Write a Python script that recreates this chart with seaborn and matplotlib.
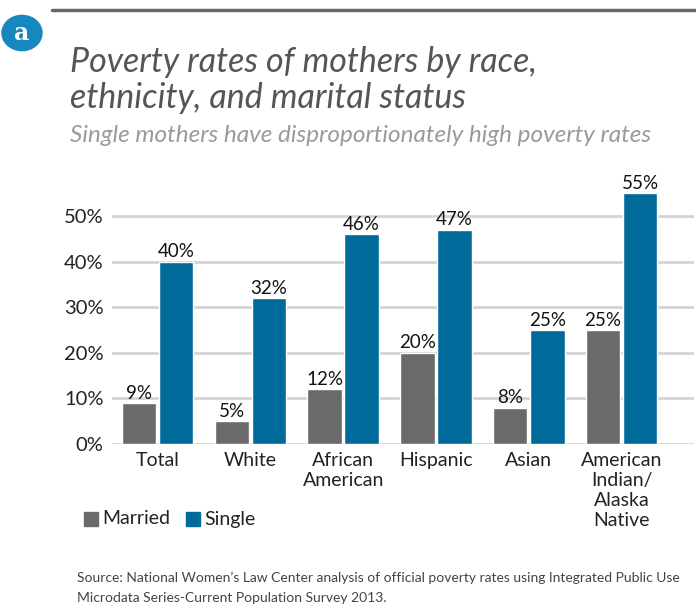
import pandas as pd
import seaborn as sns
import matplotlib.pyplot as plt
from matplotlib.patches import Circle, Rectangle
from matplotlib.lines import Line2D

# --- data ---
groups = ['Total', 'White', 'African\nAmerican', 'Hispanic', 'Asian',
          'American\nIndian/\nAlaska\nNative']
married = [9, 5, 12, 20, 8, 25]
single = [40, 32, 46, 47, 25, 55]
yticks = [0, 10, 20, 30, 40, 50]

df = pd.DataFrame({
    'group': groups * 2,
    'status': ['Married'] * len(groups) + ['Single'] * len(groups),
    'rate': married + single,
})

sns.set_style('white')
plt.rcParams['font.family'] = ['Lato', 'DejaVu Sans']

fig = plt.figure(figsize=(6.96, 6.13), dpi=100)
ax = fig.add_axes([0.161, 0.2757, 0.836, 0.4315])

colors = {'Married': '#6a6a6c', 'Single': '#006a9b'}
sns.barplot(data=df, x='group', y='rate', hue='status', palette=colors,
            saturation=1, width=0.8, gap=0.07, ax=ax, legend=False, zorder=3)

for cont in ax.containers:
    ax.bar_label(cont, labels=[f'{int(v)}%' for v in cont.datavalues],
                 fontsize=13.5, padding=1, color='#111111')

ax.set_ylim(0, 58)
ax.set_xlim(-0.49, 5.78)
ax.set_yticks(yticks)
ax.set_yticklabels([f'{t}%' for t in yticks], fontsize=14.5, color='#222222')
ax.tick_params(axis='x', labelsize=14, colors='#222222', length=0, pad=6)
ax.tick_params(axis='y', length=0, pad=6)
ax.set_xlabel('')
ax.set_ylabel('')
for t in yticks:
    ax.axhline(t, color='#d4d4d4', lw=2, zorder=1)
for s in ax.spines.values():
    s.set_visible(False)

# header
fig.add_artist(Line2D([52 / 696, 1.0], [1 - 10 / 613] * 2, color='#666666', lw=2.5))
fig.add_artist(Circle((22 / 696, 1 - 33 / 613), 20 / 696, color='#1787bf',
                      transform=fig.transFigure))
fig.text(22 / 696, 1 - 33 / 613, 'a', ha='center', va='center', color='white',
         fontsize=17, fontweight='bold', family='DejaVu Serif')
fig.text(70 / 696, 1 - 62 / 613, 'Poverty rates of mothers by race,',
         fontsize=24.5, style='italic', color='#555555', va='center')
fig.text(70 / 696, 1 - 98 / 613, 'ethnicity, and marital status',
         fontsize=24.5, style='italic', color='#555555', va='center')
fig.text(70 / 696, 1 - 135 / 613,
         'Single mothers have disproportionately high poverty rates',
         fontsize=17.5, style='italic', color='#9a9a9a', va='center')

# legend
fig.canvas.draw()
renderer = fig.canvas.get_renderer()
x0 = 84
for lab in ['Married', 'Single']:
    fig.add_artist(Rectangle((x0 / 696, 1 - 526 / 613), 14 / 696, 14 / 613,
                             color=colors[lab], transform=fig.transFigure))
    txt = fig.text((x0 + 18) / 696, 1 - 519 / 613, lab, fontsize=14,
                   color='#222222', va='center')
    x0 = x0 + 18 + txt.get_window_extent(renderer).width + 16

# source
fig.text(77 / 696, 1 - 578 / 613,
         'Source: National Women\u2019s Law Center analysis of official poverty rates using Integrated Public Use',
         fontsize=10, color='#444444', va='center')
fig.text(77 / 696, 1 - 598 / 613,
         'Microdata Series-Current Population Survey 2013.',
         fontsize=10, color='#444444', va='center')

fig.savefig('out.png', dpi=100)
